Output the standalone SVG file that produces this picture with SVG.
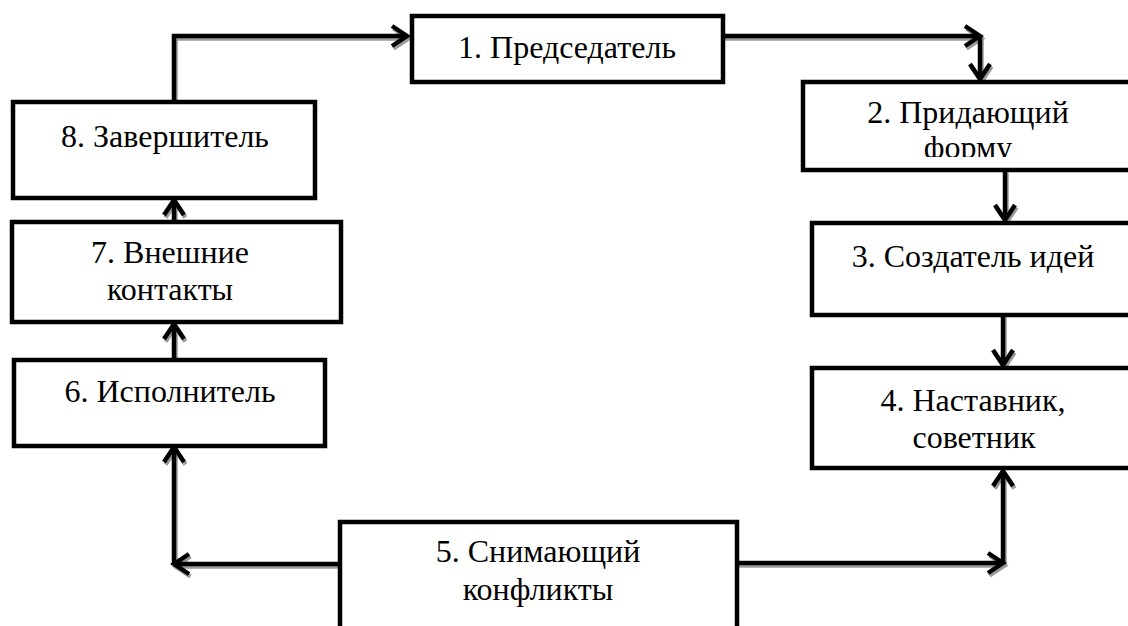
<svg xmlns="http://www.w3.org/2000/svg" width="1128" height="626" viewBox="0 0 1128 626">
<style>
.box{fill:#fff;stroke:#000;stroke-width:4.5}
.t{font-family:"Liberation Serif","Times New Roman",serif;font-size:32px;fill:#000;text-anchor:middle}
.c{fill:none;stroke:#000;stroke-width:4.5}
.s{fill:none;stroke:#9a9a9a;stroke-width:4.5}
</style>
<defs>
<marker id="ah" viewBox="-22 -14 26 28" refX="0" refY="0" markerWidth="26" markerHeight="28" markerUnits="userSpaceOnUse" orient="auto">
<path d="M-15,-10 L0,0 L-15,10" fill="none" stroke="#000" stroke-width="4.5"/>
</marker>
<marker id="ahs" viewBox="-22 -14 26 28" refX="0" refY="0" markerWidth="26" markerHeight="28" markerUnits="userSpaceOnUse" orient="auto">
<path d="M-15,-10 L0,0 L-15,10" fill="none" stroke="#9a9a9a" stroke-width="4.5"/>
</marker>
<clipPath id="clip2"><rect x="802" y="82" width="326" height="75"/></clipPath>
</defs>
<rect width="1128" height="626" fill="#fff"/>
<g id="connectors">
<g transform="translate(1.5,2.5)">
<path class="s" d="M174,102 V36 H407" marker-end="url(#ahs)"/>
<path class="s" d="M723,36 H980" marker-end="url(#ahs)"/>
<path class="s" d="M980,36 V79" marker-end="url(#ahs)"/>
<path class="s" d="M1005,170 V220" marker-end="url(#ahs)"/>
<path class="s" d="M1003,315 V365" marker-end="url(#ahs)"/>
<path class="s" d="M737,563 H1003" marker-end="url(#ahs)"/>
<path class="s" d="M1003,563 V471" marker-end="url(#ahs)"/>
<path class="s" d="M340,564 H174" marker-end="url(#ahs)"/>
<path class="s" d="M174,564 V447" marker-end="url(#ahs)"/>
<path class="s" d="M174,360 V324" marker-end="url(#ahs)"/>
<path class="s" d="M174,222 V200" marker-end="url(#ahs)"/>
</g>
<path class="c" d="M174,102 V36 H407" marker-end="url(#ah)"/>
<path class="c" d="M723,36 H980" marker-end="url(#ah)"/>
<path class="c" d="M980,36 V79" marker-end="url(#ah)"/>
<path class="c" d="M1005,170 V220" marker-end="url(#ah)"/>
<path class="c" d="M1003,315 V365" marker-end="url(#ah)"/>
<path class="c" d="M737,563 H1003" marker-end="url(#ah)"/>
<path class="c" d="M1003,563 V471" marker-end="url(#ah)"/>
<path class="c" d="M340,564 H174" marker-end="url(#ah)"/>
<path class="c" d="M174,564 V447" marker-end="url(#ah)"/>
<path class="c" d="M174,360 V324" marker-end="url(#ah)"/>
<path class="c" d="M174,222 V200" marker-end="url(#ah)"/>
</g>
<g id="n1">
<rect class="box" x="412" y="16" width="311" height="66"/>
<text class="t" x="567" y="58">1. Председатель</text>
</g>
<g id="n2">
<rect class="box" x="803" y="82" width="340" height="88"/>
<g clip-path="url(#clip2)">
<text class="t" x="968" y="123">2. Придающий</text>
<text class="t" x="968" y="158">форму</text>
</g>
</g>
<g id="n3">
<rect class="box" x="812" y="223" width="330" height="92"/>
<text class="t" x="973" y="267">3. Создатель идей</text>
</g>
<g id="n4">
<rect class="box" x="812" y="368" width="330" height="100"/>
<text class="t" x="973" y="411">4. Наставник,</text>
<text class="t" x="974" y="448">советник</text>
</g>
<g id="n5">
<rect class="box" x="340" y="522" width="397" height="120"/>
<text class="t" x="538" y="562">5. Снимающий</text>
<text class="t" x="538" y="600">конфликты</text>
</g>
<g id="n6">
<rect class="box" x="14" y="360" width="311" height="86"/>
<text class="t" x="170" y="402">6. Исполнитель</text>
</g>
<g id="n7">
<rect class="box" x="12" y="222" width="329" height="100"/>
<text class="t" x="170" y="263">7. Внешние</text>
<text class="t" x="170" y="300">контакты</text>
</g>
<g id="n8">
<rect class="box" x="13" y="102" width="302" height="96"/>
<text class="t" x="165" y="147">8. Завершитель</text>
</g>
</svg>
